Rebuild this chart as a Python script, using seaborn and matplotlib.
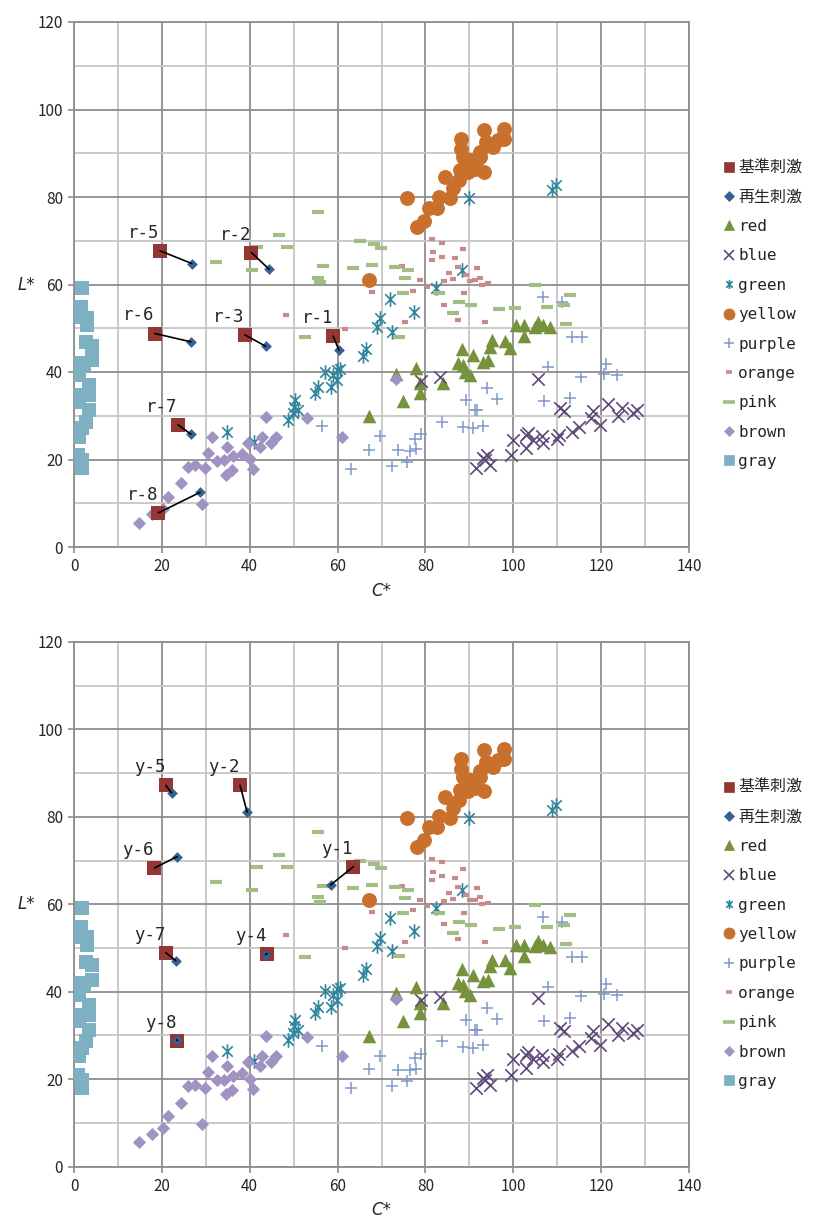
import numpy as np
import pandas as pd
import matplotlib
matplotlib.use("Agg")
import matplotlib.pyplot as plt
from matplotlib.path import Path
from matplotlib.lines import Line2D
import seaborn as sns

# ---------------- data ----------------
gray_C = [1.9, 1.5, 0.9, 3.0, 2.9, 2.7, 4.2, 4.2, 1.1, 1.1, 3.4, 0.8, 3.4, 1.1, 3.4, 2.7, 1.9, 1.1, 0.8, 1.9, 1.9, 0.3, 2.2, 0.5]
gray_L = [59.1, 54.9, 52.6, 52.4, 50.7, 46.9, 46.0, 42.7, 42.0, 39.3, 37.0, 34.7, 34.7, 33.2, 31.3, 28.6, 27.1, 25.2, 21.0, 19.9, 18.0, 40.3, 41.5, 26.5]

brown_C = [14.9, 17.7, 20.2, 21.5, 24.3, 26.0, 27.5, 29.1, 29.8, 30.6, 31.4, 32.5, 34.2, 34.8, 34.6, 35.9, 36.3, 38.2, 39.7, 40.1, 40.7, 42.7, 42.3, 43.6, 44.8, 46.0, 53.0, 60.9, 73.3]
brown_L = [5.6, 7.5, 8.8, 11.5, 14.6, 18.4, 18.7, 9.8, 18.0, 21.6, 25.2, 19.7, 19.9, 22.9, 16.5, 17.6, 20.8, 21.3, 23.8, 20.1, 17.8, 25.2, 22.9, 29.8, 23.8, 25.2, 29.6, 25.2, 38.3]

green_C = [71.9, 69.7, 68.9, 72.3, 77.4, 66.5, 65.9, 60.6, 59.9, 57.1, 58.9, 59.8, 58.4, 55.6, 54.9, 50.3, 50.1, 51.1, 49.9, 48.8, 34.8, 41.0, 90.0, 108.9, 109.7, 88.3, 82.4]
green_L = [56.8, 52.3, 50.4, 49.2, 53.8, 45.2, 43.7, 40.8, 40.5, 40.1, 39.3, 38.2, 36.5, 36.6, 35.1, 33.6, 32.1, 31.3, 30.6, 29.0, 26.4, 24.1, 79.7, 81.6, 82.7, 63.3, 59.1]

yellow_C = [75.7, 78.1, 79.7, 80.9, 82.6, 83.2, 84.5, 85.7, 86.3, 87.7, 87.9, 89.2, 89.8, 91.3, 91.7, 92.4, 93.3, 93.9, 95.4, 96.6, 97.9, 93.4, 97.9, 88.0, 88.0, 88.6, 90.1, 92.4, 67.2]
yellow_L = [79.7, 73.1, 74.6, 77.6, 77.6, 80.1, 84.6, 79.7, 82.0, 83.9, 86.2, 87.7, 85.8, 86.5, 88.5, 90.4, 85.8, 92.6, 91.5, 93.0, 93.2, 95.3, 95.5, 93.2, 90.9, 89.2, 88.5, 89.2, 61.0]

orange_C = [81.4, 83.8, 88.6, 81.8, 83.7, 86.7, 81.4, 74.6, 87.5, 91.8, 85.4, 89.2, 92.4, 86.2, 84.2, 90.1, 91.3, 78.8, 92.8, 94.3, 80.3, 77.2, 67.8, 88.8, 84.2, 87.5, 93.6, 75.3, 61.6, 48.3]
orange_L = [70.3, 69.6, 68.1, 67.4, 66.4, 66.0, 65.5, 64.2, 63.9, 63.8, 62.6, 62.1, 61.6, 61.3, 60.8, 60.9, 61.0, 61.0, 60.0, 60.3, 59.5, 58.6, 58.2, 58.1, 55.4, 52.0, 51.4, 51.4, 49.9, 53.0]

pink_C = [55.6, 46.7, 48.4, 41.6, 32.3, 40.6, 56.7, 55.6, 56.1, 65.1, 68.3, 69.8, 63.6, 67.9, 73.1, 76.1, 75.3, 75.0, 83.2, 87.7, 90.4, 86.3, 96.7, 100.4, 104.9, 107.7, 111.6, 112.9, 112.0, 74.0, 52.6]
pink_L = [76.6, 71.3, 68.6, 68.6, 65.2, 63.3, 64.2, 61.6, 60.5, 69.9, 69.2, 68.3, 63.8, 64.5, 63.9, 63.3, 61.5, 58.0, 58.1, 55.9, 55.3, 53.4, 54.4, 54.7, 59.9, 54.9, 55.3, 57.5, 51.0, 48.1, 47.9]

red_C = [100.6, 102.4, 102.4, 104.9, 105.7, 106.8, 108.4, 95.1, 94.7, 98.1, 99.2, 88.3, 90.9, 93.2, 94.3, 87.5, 88.6, 89.0, 90.1, 84.1, 77.8, 73.3, 78.8, 78.8, 75.0, 67.2]
red_L = [50.7, 50.7, 48.2, 50.4, 51.5, 50.7, 50.2, 47.3, 45.8, 47.2, 45.4, 45.2, 43.9, 42.4, 42.7, 42.0, 41.6, 40.1, 39.3, 37.4, 41.0, 39.6, 37.4, 35.1, 33.3, 29.9]

blue_C = [78.9, 83.3, 105.6, 91.4, 93.2, 94.0, 94.7, 99.5, 100.0, 103.0, 103.4, 102.9, 104.6, 106.5, 106.8, 109.9, 110.4, 113.4, 115.0, 117.8, 118.1, 119.8, 110.6, 111.6, 121.5, 123.9, 124.7, 127.3, 128.1, 93.6]
blue_L = [38.0, 38.8, 38.5, 18.0, 20.3, 21.0, 18.7, 21.0, 24.5, 25.6, 26.1, 22.6, 24.5, 25.4, 23.8, 24.7, 25.7, 26.4, 27.5, 29.4, 31.1, 27.9, 31.7, 31.1, 32.7, 30.0, 31.7, 30.6, 31.3, 19.8]

purple_C = [113.3, 115.7, 107.8, 115.4, 121.0, 120.6, 123.7, 94.1, 96.4, 89.2, 91.7, 91.2, 107.1, 112.9, 83.8, 88.5, 90.9, 93.0, 69.7, 73.8, 76.6, 77.6, 78.9, 77.8, 72.3, 75.7, 106.7, 111.2, 56.4, 63.0, 67.2]
purple_L = [47.9, 47.9, 41.1, 38.9, 41.8, 39.5, 39.3, 36.3, 33.8, 33.6, 31.3, 31.3, 33.4, 34.0, 28.6, 27.4, 27.1, 27.7, 25.3, 22.1, 22.0, 24.8, 25.8, 22.3, 18.5, 19.5, 57.1, 56.0, 27.6, 17.9, 22.2]

# panel 1 (r) : reference / reproduced stimuli
r_labels = ["r-1", "r-2", "r-3", "r-5", "r-6", "r-7", "r-8"]
r_ref_C = [59.0, 40.4, 38.9, 19.6, 18.4, 23.7, 19.2]
r_ref_L = [48.2, 67.3, 48.5, 67.7, 48.8, 27.9, 7.8]
r_rep_C = [60.3, 44.4, 43.6, 26.8, 26.6, 26.6, 28.7]
r_rep_L = [45.0, 63.5, 45.9, 64.8, 46.9, 25.8, 12.5]

# panel 2 (y)
y_labels = ["y-1", "y-2", "y-4", "y-5", "y-6", "y-7", "y-8"]
y_ref_C = [63.6, 37.8, 44.0, 20.9, 18.3, 20.9, 23.5]
y_ref_L = [68.6, 87.2, 48.7, 87.2, 68.3, 48.9, 28.8]
y_rep_C = [58.4, 39.4, 43.6, 22.2, 23.5, 23.2, 23.4]
y_rep_L = [64.4, 81.1, 48.5, 85.5, 70.9, 47.1, 29.0]

legend_names = ["基準刺激", "再生刺激", "red", "blue", "green", "yellow",
                "purple", "orange", "pink", "brown", "gray"]

# ---------------- styling ----------------
sns.set_style("white")
plt.rcParams["font.family"] = ["Noto Sans CJK JP", "DejaVu Sans"]
MONO = ["DejaVu Sans Mono", "Noto Sans CJK JP"]

star = Path([(0, -1), (0, 1), (-0.72, -0.72), (0.72, 0.72), (-0.72, 0.72), (0.72, -0.72)],
            [Path.MOVETO, Path.LINETO, Path.MOVETO, Path.LINETO, Path.MOVETO, Path.LINETO])

styles = {
    "基準刺激": dict(marker="s", color="#943634", s=95, lw=0, lms=7.5),
    "再生刺激": dict(marker="D", color="#376092", s=30, lw=0, lms=5.0),
    "red":    dict(marker="^", color="#76923C", s=95, lw=0, lms=7.5),
    "blue":   dict(marker="x", color="#5F497A", s=80, lw=1.2, lms=7.0),
    "green":  dict(marker=star, color="#31859C", s=110, lw=1.2, lms=6.5),
    "yellow": dict(marker="o", color="#C8702C", s=115, lw=0, lms=8.0),
    "purple": dict(marker="+", color="#8099CC", s=85, lw=1.1, lms=7.5),
    "orange": dict(marker="_", color="#C98A8C", s=22, lw=3.0, lms=5.0),
    "pink":   dict(marker="_", color="#A3BE85", s=70, lw=3.0, lms=8.0),
    "brown":  dict(marker="D", color="#A093C2", s=45, lw=0, lms=5.0),
    "gray":   dict(marker="s", color="#7DB1C2", s=90, lw=0, lms=7.5),
}

cats = {
    "red": (red_C, red_L), "blue": (blue_C, blue_L), "green": (green_C, green_L),
    "yellow": (yellow_C, yellow_L), "purple": (purple_C, purple_L),
    "orange": (orange_C, orange_L), "pink": (pink_C, pink_L),
    "brown": (brown_C, brown_L), "gray": (gray_C, gray_L),
}


def scat(ax, C, L, name):
    st = styles[name]
    sns.scatterplot(x=C, y=L, ax=ax, marker=st["marker"], s=st["s"],
                    color=st["color"], edgecolor=st["color"],
                    linewidth=st["lw"], legend=False, zorder=3)


def legend_handle(name):
    st = styles[name]
    lw = st["lw"] if st["lw"] > 0 else 0.5
    if name in ("orange", "pink"):
        lw = 2.6
    return Line2D([], [], linestyle="none", marker=st["marker"], markersize=st["lms"],
                  markerfacecolor=st["color"], markeredgecolor=st["color"],
                  markeredgewidth=lw)


def panel(ax, labels, refC, refL, repC, repL):
    for name in ["red", "blue", "green", "yellow", "purple", "orange", "pink", "brown", "gray"]:
        C, L = cats[name]
        scat(ax, C, L, name)
    for a, b, c, d in zip(refC, repC, refL, repL):
        ax.plot([a, b], [c, d], color="black", lw=1.2, zorder=4)
    scat(ax, refC, refL, "基準刺激")
    scat(ax, repC, repL, "再生刺激")
    for lab, x, y in zip(labels, refC, refL):
        ax.annotate(lab, (x, y), xytext=(-16, 18), textcoords="offset pixels",
                    ha="center", va="center", fontsize=12.5, family=MONO, zorder=6)

    ax.set_xlim(0, 140)
    ax.set_ylim(0, 120)
    ax.set_xticks(np.arange(0, 141, 20))
    ax.set_yticks(np.arange(0, 121, 20))
    ax.set_xticks(np.arange(10, 140, 20), minor=True)
    ax.set_yticks(np.arange(10, 120, 20), minor=True)
    ax.grid(which="major", color="#8E8E8E", lw=1.3, zorder=0)
    ax.grid(which="minor", color="#C6C6C6", lw=1.3, zorder=0)
    ax.set_axisbelow(True)
    for sp in ax.spines.values():
        sp.set_color("#8E8E8E")
        sp.set_linewidth(1.3)
    ax.tick_params(which="major", direction="out", length=4, width=1.2,
                   color="#8E8E8E", labelsize=11, pad=4, left=True, bottom=True)
    ax.tick_params(which="minor", length=0)
    ax.set_xlabel("C*", fontsize=12, style="italic", family="DejaVu Sans", va="center")
    ax.set_ylabel("L*", fontsize=12, style="italic", family="DejaVu Sans",
                  rotation=0, ha="center", va="center")
    ax.xaxis.set_label_coords(0.5, -0.083)
    ax.yaxis.set_label_coords(-0.077, 0.5)

    handles = [legend_handle(n) for n in legend_names]
    ax.legend(handles, legend_names, loc="upper left", bbox_to_anchor=(1.045, 0.749),
              frameon=False, handlelength=0.7, handletextpad=0.25,
              labelspacing=0.9, borderaxespad=0,
              prop={"family": MONO, "size": 11.5})


fig = plt.figure(figsize=(8.3, 12.22), dpi=100)
ax1 = fig.add_axes([74 / 830, 1 - 547 / 1222, 615 / 830, 525 / 1222])
ax2 = fig.add_axes([74 / 830, 1 - 1166.5 / 1222, 615 / 830, 524.5 / 1222])

panel(ax1, r_labels, r_ref_C, r_ref_L, r_rep_C, r_rep_L)
panel(ax2, y_labels, y_ref_C, y_ref_L, y_rep_C, y_rep_L)

fig.savefig("out.png", dpi=100, facecolor="white")
